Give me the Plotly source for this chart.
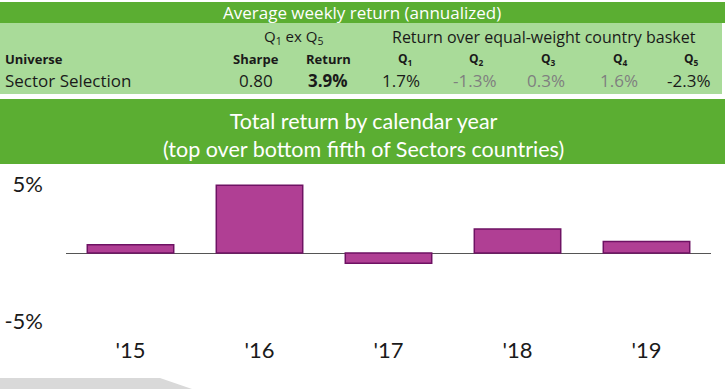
import plotly.graph_objects as go

# ---- data ----
years = ["'15", "'16", "'17", "'18", "'19"]
returns = [0.6, 4.95, -0.75, 1.75, 0.85]
ytick_vals = [-5, 5]
ytick_text = ["-5%", "5%"]

universe = "Sector Selection"
sharpe = "0.80"
q1exq5_return = "3.9%"
quintile_labels = ["Q<sub>1</sub>", "Q<sub>2</sub>", "Q<sub>3</sub>", "Q<sub>4</sub>", "Q<sub>5</sub>"]
quintile_returns = ["1.7%", "-1.3%", "0.3%", "1.6%", "-2.3%"]
quintile_colors = ["#1a1a1a", "#7f7f7f", "#7f7f7f", "#7f7f7f", "#1a1a1a"]

title_top = "Average weekly return (annualized)"
chart_title = "Total return by calendar year<br>(top over bottom fifth of Sectors countries)"

W, H = 727, 389
DARK = "#5BAE32"
LIGHT = "#A9DB99"
BAR = "#B03F94"
BAR_EDGE = "#6E1263"

def px(x):
    return x / W

def py(y):
    return 1 - y / H

fig = go.Figure()
fig.add_trace(go.Bar(
    x=years, y=returns,
    marker=dict(color=BAR, line=dict(color=BAR_EDGE, width=1.5)),
    width=0.67, hoverinfo="skip",
))

shapes = []
def rect(x0, y0, x1, y1, color):
    shapes.append(dict(type="rect", xref="paper", yref="paper",
                       x0=px(x0), x1=px(x1), y0=py(y1), y1=py(y0),
                       fillcolor=color, line=dict(width=0), layer="below"))

rect(0, 2, 725, 23, DARK)
rect(0, 23, 722, 94, LIGHT)
rect(0, 99, 725, 164, DARK)
# grey footer shape
shapes.append(dict(type="path", xref="paper", yref="paper",
                   path=f"M {px(0)} {py(378)} L {px(160)} {py(378)} L {px(192)} {py(389)} L {px(0)} {py(389)} Z",
                   fillcolor="#D9D9D9", line=dict(width=0), layer="below"))

annotations = []
TF = "Open Sans"
def ann(text, x, y, size, color="#1a1a1a", xanchor="center", family=TF):
    annotations.append(dict(text=text, x=px(x), y=py(y), xref="paper", yref="paper",
                            xanchor=xanchor, yanchor="middle", showarrow=False,
                            font=dict(family=family, size=size, color=color)))

ann(title_top, 362, 13, 17, color="white")
ann("Q<sub>1</sub> ex Q<sub>5</sub>", 293, 37, 15)
ann("Return over equal-weight country basket", 544, 37, 16)
ann("<b>Universe</b>", 3, 59, 13, xanchor="left")
ann("<b>Sharpe</b>", 256, 59, 13)
ann("<b>Return</b>", 328, 59, 13)
q_x = [405, 476, 548, 620, 691]
for lab, x in zip(quintile_labels, q_x):
    ann(f"<b>{lab}</b>", x, 59, 12)
ann(universe, 3, 81, 17, xanchor="left")
ann(sharpe, 256, 81, 17)
ann(f"<b>{q1exq5_return}</b>", 328, 81, 17)
v_x = [401, 475, 546, 619, 688]
for v, x, c in zip(quintile_returns, v_x, quintile_colors):
    ann(v, x, 81, 17, color=c)
ann(chart_title, 363, 135, 21.5, color="white", family="Lato")

fig.update_layout(
    width=W, height=H,
    margin=dict(l=0, r=0, t=0, b=0),
    paper_bgcolor="white", plot_bgcolor="white",
    showlegend=False,
    shapes=shapes, annotations=annotations,
    xaxis=dict(domain=[px(66), px(711)], range=[-0.5, 4.5], showgrid=False,
               showline=False, zeroline=False, ticks="",
               tickfont=dict(family="Lato", size=22, color="#1a1a1a")),
    yaxis=dict(domain=[py(335), py(171)], range=[-6, 6], showgrid=False,
               showline=False, zeroline=True, zerolinecolor="#555555", zerolinewidth=1.2,
               tickvals=ytick_vals, ticktext=ytick_text, ticks="",
               ticklabelstandoff=22,
               tickfont=dict(family="Lato", size=22, color="#1a1a1a")),
)

fig.write_html("out.html", config={"displayModeBar": False},
               post_script="document.body.style.margin='0px';")
